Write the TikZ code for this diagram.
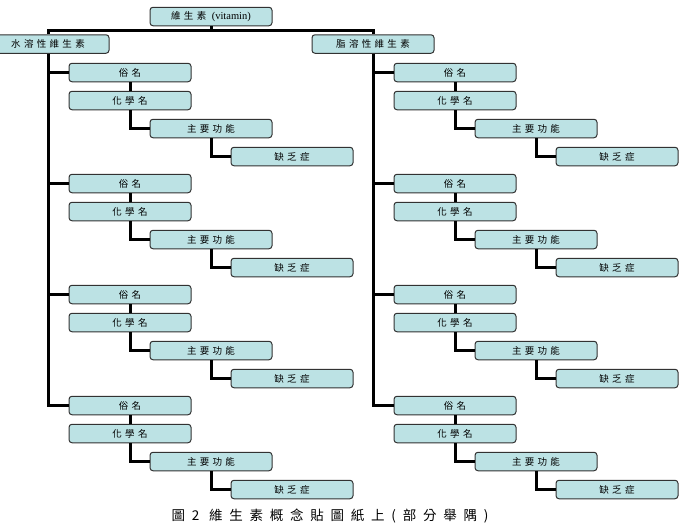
\documentclass[tikz,border=0pt]{standalone}
\usepackage{fontspec}
\setmainfont{Liberation Serif}
\newfontfamily\cjk[LetterSpace=35]{Noto Sans CJK TC}
\newfontfamily\cjkcap[LetterSpace=50]{Noto Sans CJK TC}
\definecolor{boxfill}{RGB}{188,226,228}
\definecolor{boxline}{RGB}{50,50,50}
\begin{document}
\begin{tikzpicture}[x=1pt,y=-1pt,
  cbox/.style={draw=boxline, fill=boxfill, rounded corners=3pt, line width=1pt,
    minimum width=122pt, minimum height=18.5pt, inner sep=0pt,
    font=\fontsize{9.5pt}{10pt}\cjk},
  link/.style={line width=3pt, black}]
\useasboundingbox (0,0) rectangle (686,523);
\clip (0,0) rectangle (686,523);
% top
\node[cbox] (top) at (211,16.5) {維生素\ {\rmfamily\fontsize{10.5pt}{11pt}\selectfont(vitamin)}};
\node[cbox] (water) at (48,44) {水溶性維生素};
\node[cbox] (fat) at (373,44) {脂溶性維生素};
\coordinate (J) at (211,30);
\draw[link] (top.south) -- (J);
\draw[link] (water.north) |- (J) -| (fat.north);
% groups
\foreach \side/\dx in {L/0, R/325} {
  \foreach \g in {0,1,2,3} {
    \pgfmathsetmacro{\yb}{63+111*\g}
    \node[cbox] (a\side\g) at (130+\dx,\yb+9.5) {俗名};
    \node[cbox] (b\side\g) at (130+\dx,\yb+37.5) {化學名};
    \node[cbox] (c\side\g) at (211+\dx,\yb+65.5) {主要功能};
    \node[cbox] (d\side\g) at (292+\dx,\yb+93.5) {缺乏症};
    \draw[link] (a\side\g.south) -- (b\side\g.north);
    \draw[link] (b\side\g.south) |- (c\side\g.west);
    \draw[link] (c\side\g.south) |- (d\side\g.west);
  }
}
\foreach \g in {0,1,2,3} {
  \draw[link] (water.south) |- (aL\g.west);
  \draw[link] (fat.south) |- (aR\g.west);
}
\node[anchor=north, inner sep=0pt, font=\fontsize{13.5pt}{14pt}\cjkcap] (cap) at (330,508.5) {圖2\ 維生素概念貼圖紙上(部分舉隅)};
\end{tikzpicture}
\end{document}
